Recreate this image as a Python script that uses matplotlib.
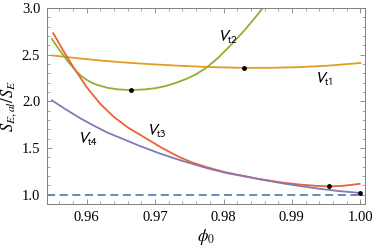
import numpy as np
import matplotlib
matplotlib.use('Agg')
import matplotlib.pyplot as plt
from matplotlib.ticker import MultipleLocator

plt.rcParams['font.family'] = 'Liberation Serif'
plt.rcParams['mathtext.fontset'] = 'stix'

# curve data
x_t1 = [0.9549, 0.958, 0.962, 0.966, 0.970, 0.974, 0.978, 0.983, 0.987, 0.991, 0.995, 1.0]
y_t1 = [2.492, 2.466, 2.437, 2.413, 2.395, 2.379, 2.367, 2.358, 2.359, 2.366, 2.380, 2.410]

x_t2 = [0.9549, 0.9560, 0.9572, 0.9585, 0.9592, 0.9600, 0.9607, 0.9615, 0.9630, 0.9645,
        0.9664, 0.9685, 0.9700, 0.9715, 0.9730, 0.9745, 0.9760, 0.9775, 0.9792, 0.9812,
        0.9832, 0.9848, 0.9862]
y_t2 = [2.667, 2.55, 2.43, 2.318, 2.27, 2.23, 2.20, 2.176, 2.145, 2.128,
        2.12, 2.127, 2.140, 2.163, 2.196, 2.238, 2.29, 2.36, 2.465, 2.612,
        2.772, 2.912, 3.045]

x_t3 = [0.9551, 0.9565, 0.9580, 0.9600, 0.9620, 0.9640, 0.9660, 0.9685, 0.9710, 0.9736,
        0.9755, 0.9775, 0.9804, 0.9854, 0.9887, 0.9911, 0.9935, 0.9954, 0.9975, 0.9999]
y_t3 = [2.73, 2.55, 2.37, 2.15, 1.97, 1.83, 1.72, 1.61, 1.50, 1.40,
        1.342, 1.295, 1.237, 1.165, 1.128, 1.108, 1.094, 1.088, 1.094, 1.115]

x_t4 = [0.9549, 0.9570, 0.9590, 0.9610, 0.9630, 0.9650, 0.9678, 0.9707, 0.9736, 0.9775,
        0.9804, 0.9854, 0.9887, 0.9911, 0.9940, 0.9970, 1.0]
y_t4 = [2.01, 1.91, 1.82, 1.74, 1.665, 1.605, 1.52, 1.44, 1.37, 1.285,
        1.232, 1.163, 1.12, 1.093, 1.063, 1.037, 1.018]

x_ref = [0.9542, 1.0]
y_ref = [1.0, 1.0]

# minima marked with dots
dot_x = [0.983, 0.9664, 0.9954, 1.0]
dot_y = [2.358, 2.12, 1.088, 1.018]

labels = [r'$V_{\mathrm{t1}}$', r'$V_{\mathrm{t2}}$', r'$V_{\mathrm{t3}}$', r'$V_{\mathrm{t4}}$']
label_x = [0.99464, 0.98063, 0.97012, 0.96012]
label_y = [2.237, 2.688, 1.677, 1.591]

fig = plt.figure(figsize=(3.74, 2.49), dpi=100)
ax = fig.add_axes([0.126, 0.181, 0.850, 0.787])

ax.plot(x_ref, y_ref, color='#5E81B5', lw=1.3, dashes=(4.5, 2.5))
ax.plot(x_t1, y_t1, color='#E19C24', lw=1.3)
ax.plot(x_t2, y_t2, color='#8FB032', lw=1.3)
ax.plot(x_t3, y_t3, color='#EB6235', lw=1.3)
ax.plot(x_t4, y_t4, color='#8778B3', lw=1.3)
ax.plot(dot_x, dot_y, 'o', color='black', ms=2.5, zorder=5)

for s, lx, ly in zip(labels, label_x, label_y):
    ax.text(lx, ly, s, ha='center', va='center', fontsize=11.5, math_fontfamily='stixsans')

ax.set_xlim(0.9542, 1.0007)
ax.set_ylim(0.9, 3.0)
ax.xaxis.set_major_locator(MultipleLocator(0.01))
ax.xaxis.set_minor_locator(MultipleLocator(0.002))
ax.yaxis.set_major_locator(MultipleLocator(0.5))
ax.yaxis.set_minor_locator(MultipleLocator(0.1))
ax.xaxis.set_major_formatter(plt.FuncFormatter(lambda v, p: '%.2f' % v))
ax.yaxis.set_major_formatter(plt.FuncFormatter(lambda v, p: '%.1f' % v))

ax.tick_params(which='both', direction='in', top=True, right=True, color='0.5', labelsize=10.5, pad=5)
ax.tick_params(which='major', length=3.5, width=0.6)
ax.tick_params(which='minor', length=2, width=0.5)
for sp in ax.spines.values():
    sp.set_color('0.5')
    sp.set_linewidth(0.7)

ax.set_xlabel(r'$\phi_0$', fontsize=12, labelpad=2)
ax.set_ylabel(r'$S_{E,al}/S_E$', fontsize=12, labelpad=2)

fig.savefig('out.png', dpi=100)
